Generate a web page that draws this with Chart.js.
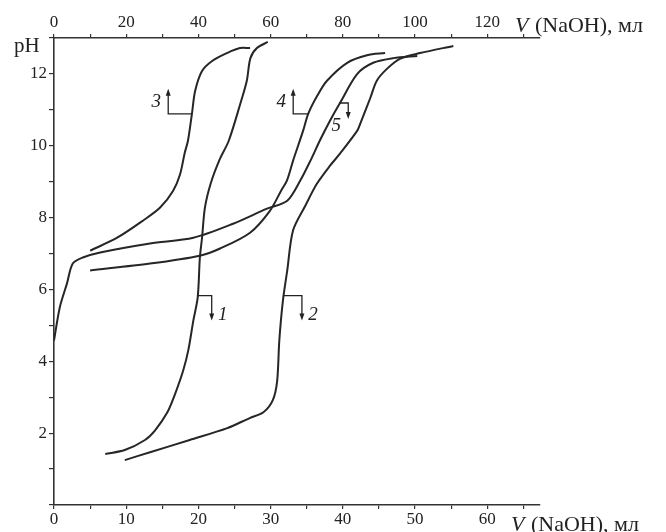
<!DOCTYPE html>
<html>
<head>
<meta charset="utf-8">
<script src="https://cdn.jsdelivr.net/npm/chart.js@4/dist/chart.umd.min.js"></script>
<style>
html,body{margin:0;padding:0;background:#fff;}
#wrap{width:666px;height:532px;position:relative;}
</style>
</head>
<body>
<div id="wrap"><canvas id="c"></canvas></div>
<script>
// ---- Data (V in ml; curves 1, 2, 5 on bottom axis, curves 3, 4 on top axis) ----
const curve1X = [7.1, 9.8, 12.6, 14.0, 15.7, 16.8, 17.9, 18.6, 19.3, 19.9, 20.2, 20.5, 20.9, 21.7, 22.9, 24.2, 25.8, 26.7, 27.2, 28.1, 29.6];
const curve1Y = [1.42, 1.53, 1.81, 2.08, 2.58, 3.11, 3.75, 4.31, 5.14, 5.78, 6.89, 7.44, 8.28, 8.95, 9.6, 10.14, 11.17, 11.81, 12.44, 12.72, 12.89];

const curve2X = [9.8, 13.3, 18.8, 24.0, 27.1, 29.0, 30.3, 30.9, 31.2, 31.7, 32.3, 33.1, 34.8, 36.4, 38.2, 39.6, 42.0, 42.4, 43.8, 44.7, 46.1, 47.9, 50.7, 55.3];
const curve2Y = [1.25, 1.47, 1.81, 2.14, 2.42, 2.58, 2.92, 3.45, 4.58, 5.69, 6.53, 7.64, 8.33, 8.94, 9.44, 9.78, 10.42, 10.61, 11.33, 11.81, 12.14, 12.42, 12.58, 12.78];

const curve3X = [10.0, 17.5, 24.7, 29.4, 33.0, 34.9, 36.2, 37.1, 38.2, 39.1, 41.0, 43.8, 47.9, 51.5, 54.3];
const curve3Y = [7.08, 7.44, 7.92, 8.28, 8.75, 9.2, 9.8, 10.14, 10.89, 11.53, 12.08, 12.36, 12.58, 12.72, 12.72];

const curve4X = [10.0, 26.6, 40.4, 46.0, 54.3, 59.8, 62.9, 64.5, 66.2, 69.0, 70.4, 72.9, 75.6, 81.2, 86.7, 91.7];
const curve4Y = [6.53, 6.72, 6.94, 7.14, 7.58, 8.19, 8.75, 9.03, 9.58, 10.42, 10.89, 11.39, 11.81, 12.31, 12.52, 12.58];

const curve5X = [0, 0.8, 1.8, 2.6, 4.0, 6.4, 13.3, 19.3, 24.8, 29.5, 32.3, 34.1, 35.5, 36.8, 38.2, 39.6, 42.0, 44.2, 47.0, 50.3];
const curve5Y = [4.58, 5.5, 6.17, 6.72, 6.89, 7.03, 7.28, 7.44, 7.83, 8.25, 8.47, 9.03, 9.58, 10.14, 10.69, 11.19, 12.0, 12.31, 12.44, 12.5];

const bottomTickLabels = [0, 10, 20, 30, 40, 50, 60];
const topTickLabels = [0, 20, 40, 60, 80, 100, 120];
const yTickLabels = [2, 4, 6, 8, 10, 12];

const axisTitle = ['V', ' (NaOH), мл'];
const yTitle = 'pH';

// curve label anchors (bottom-axis V, pH) – where each label's leader meets its curve
const curveLabels = [
  {text: '1', v: 19.9, ph: 5.83, dir: 'down'},
  {text: '2', v: 31.7, ph: 5.83, dir: 'down'},
  {text: '3', v: 19.0, ph: 10.89, dir: 'up'},
  {text: '4', v: 35.2, ph: 10.89, dir: 'up'},
  {text: '5', v: 39.5, ph: 11.19, dir: 'down5'}
];

function pts(xs, ys){ return xs.map((x,i)=>({x:x, y:ys[i]})); }

const LINE = '#262626';
const FONT = '"Liberation Serif", "Times New Roman", serif';

function ds(xs, ys, xAxis){
  return {data: pts(xs, ys), xAxisID: xAxis, yAxisID: 'y', showLine: true,
    borderColor: LINE, borderWidth: 2, pointRadius: 0, tension: 0.3, fill: false};
}

const overlay = {
  id: 'overlay',
  afterDraw(chart){
    const ctx = chart.ctx;
    const xs = chart.scales.x, ys = chart.scales.y;
    ctx.save();
    ctx.fillStyle = '#222';
    ctx.strokeStyle = '#222';
    ctx.textBaseline = 'alphabetic';
    // axis titles
    function title(x, yb){
      ctx.font = 'italic 22px ' + FONT;
      ctx.textAlign = 'left';
      ctx.fillText(axisTitle[0], x, yb);
      const w = ctx.measureText(axisTitle[0]).width;
      ctx.font = '22px ' + FONT;
      ctx.fillText(axisTitle[1], x + w + 1, yb);
    }
    title(515, 32);
    title(511, 531);
    ctx.font = '21px ' + FONT;
    ctx.fillText(yTitle, 14, 52);

    // curve labels
    ctx.lineWidth = 1.3;
    function arrowDown(x, y){ ctx.beginPath(); ctx.moveTo(x-2.5, y-7); ctx.lineTo(x+2.5, y-7); ctx.lineTo(x, y); ctx.closePath(); ctx.fill(); }
    function arrowUp(x, y){ ctx.beginPath(); ctx.moveTo(x-2.5, y+7); ctx.lineTo(x+2.5, y+7); ctx.lineTo(x, y); ctx.closePath(); ctx.fill(); }
    ctx.font = 'italic 19px ' + FONT;
    ctx.textAlign = 'center';
    curveLabels.forEach(l => {
      const px = xs.getPixelForValue(l.v), py = ys.getPixelForValue(l.ph);
      ctx.beginPath();
      if (l.dir === 'down') {
        const hx = px + (l.text === '1' ? 14 : 19);
        ctx.moveTo(px, py); ctx.lineTo(hx, py); ctx.lineTo(hx, py + 22); ctx.stroke();
        arrowDown(hx, py + 25);
        ctx.fillText(l.text, hx + 11, py + 24);
      } else if (l.dir === 'up') {
        const hx = px - (l.text === '3' ? 23 : 15);
        ctx.moveTo(px, py); ctx.lineTo(hx, py); ctx.lineTo(hx, py - 21); ctx.stroke();
        arrowUp(hx, py - 25);
        ctx.fillText(l.text, hx - 12, py - 7);
      } else {
        const hx = px + 9;
        ctx.moveTo(px, py); ctx.lineTo(hx, py); ctx.lineTo(hx, py + 13); ctx.stroke();
        arrowDown(hx, py + 16);
        ctx.fillText(l.text, px - 3, py + 28);
      }
    });
    ctx.restore();
  }
};

const tickFont = {family: FONT, size: 17};

new Chart(document.getElementById('c'), {
  type: 'scatter',
  data: {
    datasets: [
      ds(curve1X, curve1Y, 'x'),
      ds(curve2X, curve2Y, 'x'),
      ds(curve3X, curve3Y, 'x2'),
      ds(curve4X, curve4Y, 'x2'),
      ds(curve5X, curve5Y, 'x')
    ]
  },
  options: {
    responsive: true,
    maintainAspectRatio: false,
    animation: false,
    layout: {padding: {left: 0, right: 126, top: 0, bottom: 0}},
    plugins: {legend: {display: false}, tooltip: {enabled: false}},
    scales: {
      x: {
        type: 'linear', position: 'bottom', min: 0, max: 67.3,
        afterFit(s){ s.height = 27; },
        ticks: {stepSize: 5, includeBounds: false, autoSkip: false, maxRotation: 0, padding: 0, color: '#222', font: tickFont,
          callback: v => bottomTickLabels.includes(v) ? String(v) : ''},
        grid: {drawOnChartArea: false, drawTicks: true, tickLength: 4, color: '#333', lineWidth: 1.2},
        border: {color: '#333', width: 1.6}
      },
      x2: {
        type: 'linear', position: 'top', min: 0, max: 134.6,
        afterFit(s){ s.height = 38; },
        ticks: {stepSize: 10, includeBounds: false, autoSkip: false, maxRotation: 0, padding: 1, color: '#222', font: tickFont,
          callback: v => topTickLabels.includes(v) ? String(v) : ''},
        grid: {drawOnChartArea: false, drawTicks: true, tickLength: 4, color: '#333', lineWidth: 1.2},
        border: {color: '#333', width: 1.6}
      },
      y: {
        type: 'linear', position: 'left', min: 0, max: 13,
        afterFit(s){ s.width = 54; },
        ticks: {stepSize: 1, includeBounds: false, autoSkip: false, padding: 2, color: '#222', font: tickFont,
          callback: v => yTickLabels.includes(v) ? String(v) : ''},
        grid: {drawOnChartArea: false, drawTicks: true, tickLength: 5, color: '#333', lineWidth: 1.2},
        border: {color: '#333', width: 1.6}
      }
    }
  },
  plugins: [overlay]
});
</script>
</body>
</html>
